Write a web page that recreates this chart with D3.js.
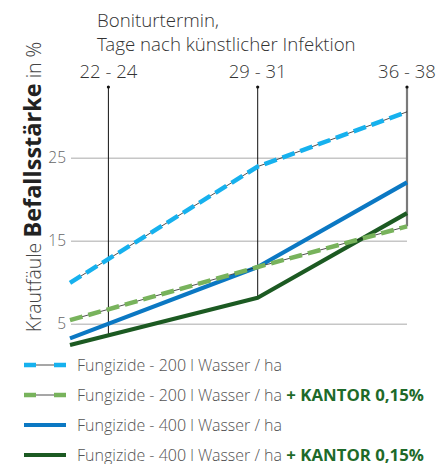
<!DOCTYPE html>
<html>
<head>
<meta charset="utf-8">
<script src="https://cdn.jsdelivr.net/npm/d3@7"></script>
<style>
  body { margin: 0; background: #fff; }
  svg { display: block; font-family: "Open Sans Light", "Open Sans", sans-serif; }
</style>
</head>
<body>
<div id="chart"></div>
<script>
// Boniturtermine (Tage nach Infektion)
const tickDays = [23, 30, 37];
const tickLabels = ['22 - 24', '29 - 31', '36 - 38'];
const pointDays = [21.2, 30, 37];
const yTicks = [5, 15, 25];

const seriesNames = [
  'Fungizide - 200 l Wasser / ha',
  'Fungizide - 200 l Wasser / ha',
  'Fungizide - 400 l Wasser / ha',
  'Fungizide - 400 l Wasser / ha',
];
const seriesKantor = [false, true, false, true];
const seriesColors = ['#16b1ee', '#78b35c', '#0b78c3', '#1c5a22'];
const seriesDashed = [true, true, false, false];

const val200 = [10.0, 24.0, 30.6];
const val200K = [5.5, 11.9, 16.8];
const val400 = [3.3, 11.9, 22.1];
const val400K = [2.5, 8.2, 18.4];
const allValues = [val200, val200K, val400, val400K];

const width = 440, height = 464;

const svg = d3.select('#chart').append('svg')
  .attr('width', width)
  .attr('height', height);

const x = d3.scaleLinear().domain([21.2, 37]).range([70, 407]);
const y = d3.scaleLinear().domain([5, 25]).range([324.3, 158.3]);

// Titel oben
svg.append('text')
  .attr('x', 97).attr('y', 27)
  .attr('font-size', 18.7).attr('font-weight', 300).attr('fill', '#333')
  .text('Boniturtermin,');
svg.append('text')
  .attr('x', 97).attr('y', 51)
  .attr('font-size', 18.7).attr('font-weight', 300).attr('fill', '#333')
  .text('Tage nach künstlicher Infektion');

// Gitterlinien
svg.append('g')
  .selectAll('line')
  .data(yTicks)
  .enter()
  .append('line')
  .attr('x1', 71).attr('x2', 407)
  .attr('y1', (d) => y(d)).attr('y2', (d) => y(d))
  .attr('stroke', '#c6c6c6')
  .attr('stroke-width', 1.5);

svg.append('g')
  .selectAll('text')
  .data(yTicks)
  .enter()
  .append('text')
  .attr('x', 66)
  .attr('y', (d) => y(d) + 5)
  .attr('text-anchor', 'end')
  .attr('font-size', 15.5).attr('font-weight', 300).attr('fill', '#666')
  .text((d) => d);

// Y-Achsentitel
const yTitle = svg.append('text')
  .attr('transform', 'translate(41,187) rotate(-90)')
  .attr('text-anchor', 'middle')
  .attr('fill', '#222');
yTitle.append('tspan').attr('font-size', 19.5).attr('font-weight', 300).attr('fill', '#444').text('Krautfäule ');
yTitle.append('tspan').attr('font-size', 23.5).attr('font-weight', 700)
  .attr('font-family', '"Open Sans", sans-serif').text('Befallsstärke');
yTitle.append('tspan').attr('font-size', 19.5).attr('font-weight', 300).attr('fill', '#444').text(' in %');

// Lotlinien bis zur untersten Kurve
function lowestAt(day) {
  return d3.min(allValues, (vals) => {
    const interp = d3.scaleLinear().domain(pointDays).range(vals);
    return interp(day);
  });
}
const drops = svg.append('g');
tickDays.forEach((day, i) => {
  const last = i === tickDays.length - 1;
  drops.append('line')
    .attr('x1', x(day)).attr('x2', x(day))
    .attr('y1', 87).attr('y2', y(lowestAt(day)))
    .attr('stroke', last ? '#7a7a7a' : '#111')
    .attr('stroke-width', last ? 2.2 : 1);
  drops.append('circle')
    .attr('cx', x(day)).attr('cy', 87).attr('r', 1.6)
    .attr('fill', '#111');
  svg.append('text')
    .attr('x', x(day)).attr('y', 78)
    .attr('text-anchor', 'middle')
    .attr('font-size', 18.5).attr('font-weight', 300).attr('fill', '#333')
    .text(tickLabels[i]);
});

// Kurven
const line = d3.line()
  .x((d, i) => x(pointDays[i]))
  .y((d) => y(d));

const order = [2, 3, 1, 0];
order.forEach((s) => {
  if (seriesDashed[s]) {
    svg.append('path')
      .datum(allValues[s])
      .attr('fill', 'none')
      .attr('stroke', '#222')
      .attr('stroke-width', 0.8)
      .attr('d', line);
    svg.append('path')
      .datum(allValues[s])
      .attr('fill', 'none')
      .attr('stroke', seriesColors[s])
      .attr('stroke-width', 4.5)
      .attr('stroke-dasharray', '13 6')
      .attr('d', line);
  } else {
    svg.append('path')
      .datum(allValues[s])
      .attr('fill', 'none')
      .attr('stroke', seriesColors[s])
      .attr('stroke-width', 4.2)
      .attr('stroke-linejoin', 'round')
      .attr('d', line);
  }
});

// Legende
const legend = svg.append('g');
seriesNames.forEach((name, i) => {
  const ly = 365 + i * 30;
  if (seriesDashed[i]) {
    legend.append('line')
      .attr('x1', 24).attr('x2', 66).attr('y1', ly).attr('y2', ly)
      .attr('stroke', '#222').attr('stroke-width', 0.8);
    legend.append('line')
      .attr('x1', 24).attr('x2', 66).attr('y1', ly).attr('y2', ly)
      .attr('stroke', seriesColors[i]).attr('stroke-width', 4.5)
      .attr('stroke-dasharray', '12 18 12');
  } else {
    legend.append('line')
      .attr('x1', 24).attr('x2', 66).attr('y1', ly).attr('y2', ly)
      .attr('stroke', seriesColors[i]).attr('stroke-width', 4.2);
  }
  const t = legend.append('text')
    .attr('x', 77).attr('y', ly + 5.5)
    .attr('font-size', 16);
  t.append('tspan').attr('font-weight', 300).attr('fill', '#555').text(name);
  if (seriesKantor[i]) {
    t.append('tspan').attr('font-weight', 700).attr('fill', '#1e6a2a')
      .attr('font-family', '"Open Sans", sans-serif')
      .attr('font-size', 16.8).text(' + KANTOR 0,15%');
  }
});
</script>
</body>
</html>
